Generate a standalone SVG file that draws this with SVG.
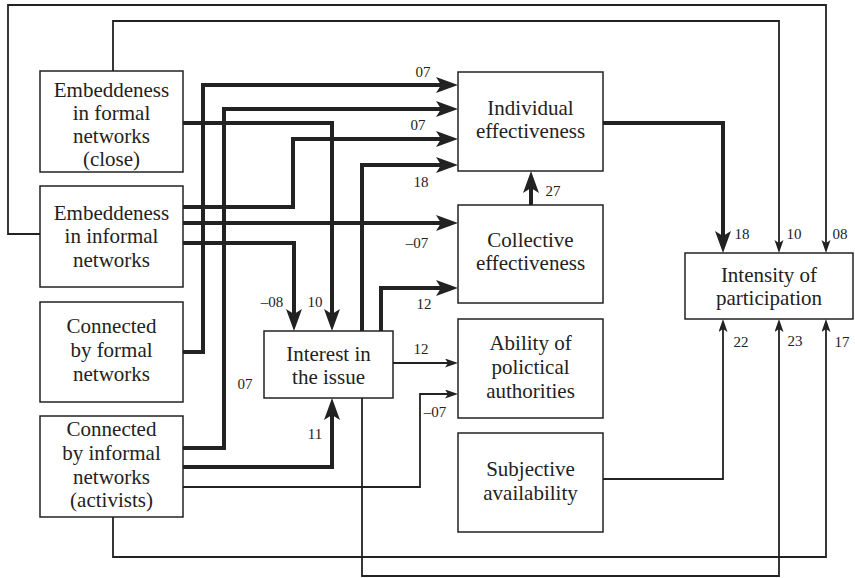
<svg xmlns="http://www.w3.org/2000/svg" width="855" height="578" viewBox="0 0 855 578">
<defs>
<marker id="ah" markerUnits="userSpaceOnUse" markerWidth="24" markerHeight="18" refX="10" refY="8" orient="auto">
<path d="M0,0 L22,8 L0,16 L5,8 z" fill="#222"/>
</marker>
<marker id="as" markerUnits="userSpaceOnUse" markerWidth="14" markerHeight="10" refX="7" refY="4.5" orient="auto">
<path d="M0,0 L13,4.5 L0,9 L3,4.5 z" fill="#222"/>
</marker>
<style>
.box{fill:#fff;stroke:#222;stroke-width:1.5}
.t{font-family:"Times New Roman","Liberation Serif","DejaVu Serif",serif;font-size:21px;fill:#222;text-anchor:middle}
.n{font-family:"Times New Roman","Liberation Serif","DejaVu Serif",serif;font-size:15px;fill:#222;text-anchor:middle}
.thick{fill:none;stroke:#222;stroke-width:4;marker-end:url(#ah)}
.thin{fill:none;stroke:#222;stroke-width:1.8;marker-end:url(#as)}
</style>
</defs>
<rect width="855" height="578" fill="#fff"/>
<g id="connectors">
<path class="thin" d="M40,234 H8 V5 H826 V247"/>
<path class="thin" d="M113,71 V21 H779 V247"/>
<path class="thin" d="M113,517 V557 H826 V325"/>
<path class="thin" d="M362,398 V576 H779 V325"/>
<path class="thin" d="M603,479 H723 V325"/>
<path class="thin" d="M393,363 H452"/>
<path class="thin" d="M183,487 H420 V394 H452"/>
<path class="thick" d="M183,352 H203 V85 H446"/>
<path class="thick" d="M183,448 H224 V109 H446"/>
<path class="thick" d="M183,207 H293 V139 H446"/>
<path class="thick" d="M362,331 V165 H446"/>
<path class="thick" d="M183,123 H332 V319"/>
<path class="thick" d="M183,223 H446"/>
<path class="thick" d="M183,243 H294 V319"/>
<path class="thick" d="M381,331 V288 H446"/>
<path class="thick" d="M183,467 H332 V410"/>
<path class="thick" d="M531,205 V183"/>
<path class="thick" d="M603,123 H723 V241"/>
</g>
<g id="labels">
<text class="n" x="423" y="77">07</text>
<text class="n" x="418" y="130">07</text>
<text class="n" x="421" y="187">18</text>
<text class="n" x="417" y="248">–07</text>
<text class="n" x="272" y="307">–08</text>
<text class="n" x="315" y="307">10</text>
<text class="n" x="424" y="309">12</text>
<text class="n" x="421" y="354">12</text>
<text class="n" x="245" y="389">07</text>
<text class="n" x="315" y="439">11</text>
<text class="n" x="435" y="417">–07</text>
<text class="n" x="553" y="196">27</text>
<text class="n" x="742" y="239">18</text>
<text class="n" x="794" y="239">10</text>
<text class="n" x="840" y="239">08</text>
<text class="n" x="741" y="347">22</text>
<text class="n" x="795" y="346">23</text>
<text class="n" x="842" y="347">17</text>
</g>
<g id="emb-formal">
<rect class="box" x="40" y="71" width="143" height="101"/>
<text class="t" x="111.5" y="97">Embeddeness</text>
<text class="t" x="111.5" y="120">in formal</text>
<text class="t" x="111.5" y="143">networks</text>
<text class="t" x="111.5" y="166">(close)</text>
</g>
<g id="emb-informal">
<rect class="box" x="40" y="186" width="143" height="101"/>
<text class="t" x="111.5" y="220">Embeddeness</text>
<text class="t" x="111.5" y="243">in informal</text>
<text class="t" x="111.5" y="267">networks</text>
</g>
<g id="conn-formal">
<rect class="box" x="40" y="302" width="143" height="100"/>
<text class="t" x="111.5" y="333">Connected</text>
<text class="t" x="111.5" y="357">by formal</text>
<text class="t" x="111.5" y="381">networks</text>
</g>
<g id="conn-informal">
<rect class="box" x="40" y="416" width="143" height="101"/>
<text class="t" x="111.5" y="436">Connected</text>
<text class="t" x="111.5" y="460">by informal</text>
<text class="t" x="111.5" y="484">networks</text>
<text class="t" x="111.5" y="507">(activists)</text>
</g>
<g id="interest">
<rect class="box" x="264" y="331" width="129" height="67"/>
<text class="t" x="328.5" y="361">Interest in</text>
<text class="t" x="328.5" y="384">the issue</text>
</g>
<g id="individual">
<rect class="box" x="458" y="72" width="145" height="99"/>
<text class="t" x="530.5" y="115">Individual</text>
<text class="t" x="530.5" y="138">effectiveness</text>
</g>
<g id="collective">
<rect class="box" x="458" y="205" width="145" height="98"/>
<text class="t" x="530.5" y="247">Collective</text>
<text class="t" x="530.5" y="270">effectiveness</text>
</g>
<g id="ability">
<rect class="box" x="458" y="319" width="145" height="99"/>
<text class="t" x="530.5" y="350">Ability of</text>
<text class="t" x="530.5" y="374">polictical</text>
<text class="t" x="530.5" y="398">authorities</text>
</g>
<g id="subjective">
<rect class="box" x="458" y="433" width="145" height="99"/>
<text class="t" x="530.5" y="476">Subjective</text>
<text class="t" x="530.5" y="500">availability</text>
</g>
<g id="intensity">
<rect class="box" x="685" y="253" width="168" height="66"/>
<text class="t" x="769" y="282">Intensity of</text>
<text class="t" x="769" y="305">participation</text>
</g>
</svg>
